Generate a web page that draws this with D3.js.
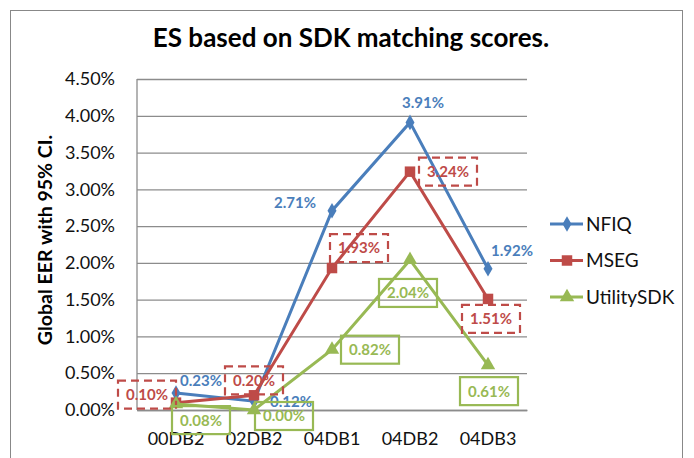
<!DOCTYPE html>
<html lang="en">
<head>
<meta charset="utf-8">
<title>ES based on SDK matching scores.</title>
<script src="https://cdnjs.cloudflare.com/ajax/libs/d3/7.8.5/d3.min.js"></script>
<style>
  body { margin: 0; background: #fff; }
  text { font-family: Lato, "Open Sans", sans-serif; }
</style>
</head>
<body>
<div id="chart"></div>
<script>
// data
const categories = ["00DB2", "02DB2", "04DB1", "04DB2", "04DB3"];
const nfiq    = [0.23, 0.12, 2.71, 3.91, 1.92];
const mseg    = [0.10, 0.20, 1.93, 3.24, 1.51];
const utility = [0.08, 0.00, 0.82, 2.04, 0.61];
const yTicks  = [0, 0.5, 1, 1.5, 2, 2.5, 3, 3.5, 4, 4.5];

// where each data label sits, relative to its point (centre of the label)
const nfiqLabelPos    = [[25, -12], [37, 0], [-37, -8], [13, -20], [24, -18]];
const msegLabelPos    = [[-29, -8], [0, -15], [27, -20], [38, 0], [3, 20]];
const utilityLabelPos = [[25, 16], [30, 6], [38, 0], [-2, 33], [1, 26]];

const W = 694, H = 458;
const svg = d3.select("#chart").append("svg").attr("width", W).attr("height", H);

// outer chart border
svg.append("rect").attr("x", 10.5).attr("y", 10.5).attr("width", 672).attr("height", 460)
  .attr("fill", "none").attr("stroke", "#888").attr("stroke-width", 1);

const plot = { left: 137, right: 527, top: 79, bottom: 410 };

const x = d3.scaleBand().domain(categories).range([plot.left, plot.right]);
const y = d3.scaleLinear().domain([0, 4.5]).range([plot.bottom, plot.top]);
const cx = d => x(d) + x.bandwidth() / 2;

// gridlines + y axis
const yAxis = d3.axisLeft(y).tickValues(yTicks)
  .tickFormat(d => d3.format(".2f")(d) + "%")
  .tickSize(-(plot.right - plot.left)).tickPadding(22);
const gy = svg.append("g").attr("transform", `translate(${plot.left},0)`).call(yAxis);
gy.select(".domain").remove();
gy.selectAll(".tick line").attr("stroke", "#8c8c8c").attr("stroke-width", 1.3);
gy.selectAll(".tick text").attr("font-size", 18).attr("fill", "#111")
  .style("font-family", "Lato, sans-serif");
svg.append("line").attr("x1", plot.left).attr("x2", plot.left)
  .attr("y1", plot.top).attr("y2", plot.bottom).attr("stroke", "#8c8c8c").attr("stroke-width", 1.3);

// x axis labels
const xAxis = d3.axisBottom(x).tickSize(0).tickPadding(22);
const gx = svg.append("g").attr("transform", `translate(0,${plot.bottom})`).call(xAxis);
gx.select(".domain").attr("stroke", "#8c8c8c").attr("stroke-width", 1.3);
gx.selectAll(".tick text").attr("font-size", 18).attr("fill", "#111")
  .style("font-family", "Lato, sans-serif");

// titles
svg.append("text").attr("x", 351).attr("y", 47).attr("text-anchor", "middle")
  .attr("font-size", 26).attr("font-weight", "bold").attr("fill", "#000")
  .text("ES based on SDK matching scores.");
svg.append("text").attr("transform", "translate(52,240) rotate(-90)")
  .attr("text-anchor", "middle").attr("font-size", 19.5).attr("font-weight", "bold")
  .attr("fill", "#000").text("Global EER with 95% CI.");

const series = [
  { name: "NFIQ", values: nfiq, color: "#4a7ebb", shape: d3.symbolDiamond, size: 70, labels: nfiqLabelPos, box: null },
  { name: "MSEG", values: mseg, color: "#be4b48", shape: d3.symbolSquare, size: 110, labels: msegLabelPos, box: "dashed" },
  { name: "UtilitySDK", values: utility, color: "#98b954", shape: d3.symbolTriangle, size: 90, labels: utilityLabelPos, box: "solid" }
];

const line = d3.line().x(d => cx(d.cat)).y(d => y(d.v));

series.forEach(s => {
  const pts = categories.map((c, i) => ({ cat: c, v: s.values[i] }));
  svg.append("path").datum(pts).attr("d", line)
    .attr("fill", "none").attr("stroke", s.color).attr("stroke-width", 3);
  svg.selectAll(null).data(pts).enter().append("path")
    .attr("d", d3.symbol().type(s.shape).size(s.size))
    .attr("transform", d => `translate(${cx(d.cat)},${y(d.v)})`)
    .attr("fill", s.color);
});

// data labels drawn last so they sit on top
series.forEach(s => {
  categories.forEach((c, i) => {
    const px = cx(c) + s.labels[i][0], py = y(s.values[i]) + s.labels[i][1];
    const g = svg.append("g");
    if (s.box) {
      g.append("rect").attr("x", px - 29).attr("y", py - 14).attr("width", 58).attr("height", 28)
        .attr("fill", "none").attr("stroke", s.color).attr("stroke-width", 2.2)
        .attr("stroke-dasharray", s.box === "dashed" ? "8,5" : null);
    }
    g.append("text").attr("x", px).attr("y", py).attr("dy", "0.36em")
      .attr("text-anchor", "middle").attr("font-size", 15).attr("font-weight", "bold")
      .attr("fill", s.color).text(d3.format(".2f")(s.values[i]) + "%");
  });
});

// legend
const legend = svg.append("g").selectAll("g").data(series).enter().append("g")
  .attr("transform", (d, i) => `translate(550,${224 + i * 36.5})`);
legend.append("line").attr("x1", 0).attr("x2", 33).attr("stroke", d => d.color).attr("stroke-width", 3);
legend.append("path").attr("d", d => d3.symbol().type(d.shape).size(d.size)())
  .attr("transform", "translate(17,0)").attr("fill", d => d.color);
legend.append("text").attr("x", 36).attr("dy", "0.35em").attr("font-size", 19)
  .attr("fill", "#111").text(d => d.name);
</script>
</body>
</html>
